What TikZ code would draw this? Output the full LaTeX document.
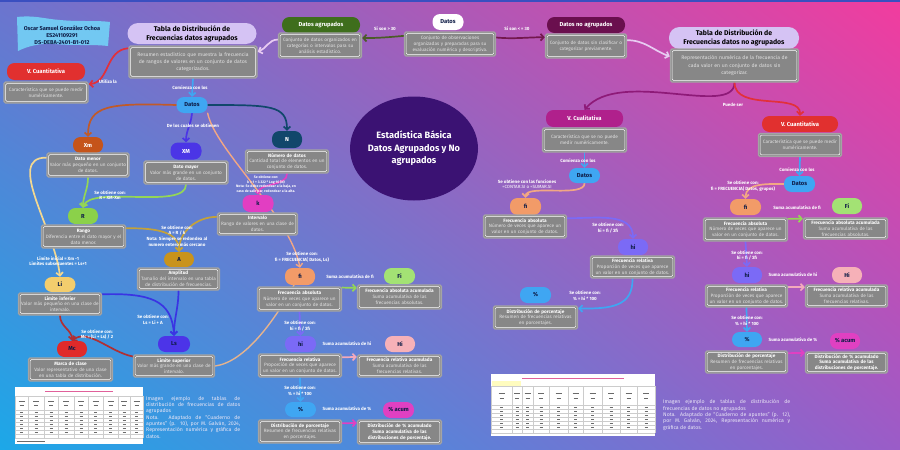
\documentclass[tikz,border=0pt]{standalone}
\usepackage{fontspec}
\setmainfont{Fira Sans}
\usetikzlibrary{arrows.meta,shapes.geometric,shadings}
\pgfdeclarelayer{bglayer}
\pgfdeclarelayer{edges}
\pgfsetlayers{bglayer,edges,main}
\definecolor{bgTL}{HTML}{6C74CE}
\definecolor{bgTR}{HTML}{F23C9E}
\definecolor{bgBL}{HTML}{1CA8E8}
\definecolor{bgBR}{HTML}{9A5CC8}
\definecolor{topline}{HTML}{3A4FC0}
\definecolor{boxgray}{HTML}{878787}
\definecolor{boxedge}{HTML}{A4A4A4}
\definecolor{boxtext}{HTML}{E2E2E2}
\definecolor{navy}{HTML}{0E1C46}
\definecolor{captext}{HTML}{EAE6F6}
\definecolor{titlepurple}{HTML}{3B1273}
\definecolor{authorblue}{HTML}{72C8F2}
\definecolor{agrgreen}{HTML}{3E6E1C}
\definecolor{cplum}{HTML}{6A0F4E}
\definecolor{lav}{HTML}{D5C3F4}
\definecolor{redp}{HTML}{E1302F}
\definecolor{datblue}{HTML}{3FA6F2}
\definecolor{xmor}{HTML}{C5541A}
\definecolor{xMbl}{HTML}{4B35E6}
\definecolor{ntea}{HTML}{11476B}
\definecolor{kmag}{HTML}{E23EC2}
\definecolor{rgr}{HTML}{8BD14A}
\definecolor{aoch}{HTML}{C9931C}
\definecolor{liyel}{HTML}{F3CD6D}
\definecolor{mcred}{HTML}{E02A2A}
\definecolor{lsbl}{HTML}{4C34E8}
\definecolor{fior}{HTML}{F29B68}
\definecolor{Figr}{HTML}{A3E274}
\definecolor{hivi}{HTML}{7B6AF6}
\definecolor{Hipk}{HTML}{F6B1B8}
\definecolor{Pcmag}{HTML}{E040C2}
\definecolor{vcualc}{HTML}{B0208C}
\definecolor{cOlive}{HTML}{4B5B28}
\definecolor{cMaroon}{HTML}{73184E}
\definecolor{lavline}{HTML}{E8CBF2}
\definecolor{redline}{HTML}{E2303A}
\definecolor{orline}{HTML}{C15A28}
\definecolor{salmonl}{HTML}{F2A784}
\definecolor{grline}{HTML}{94D656}
\definecolor{ochline}{HTML}{C4A23A}
\definecolor{yelline}{HTML}{F3D891}
\definecolor{dredline}{HTML}{B02F33}
\definecolor{bline}{HTML}{3A34E3}
\definecolor{tanline}{HTML}{E5B38E}
\definecolor{pkline}{HTML}{F3A9BC}
\definecolor{purline}{HTML}{8E1A78}
\definecolor{tabpink}{HTML}{E0609A}
\definecolor{tabmark}{HTML}{6A6A6A}
\newcommand{\fsdesc}{\fontsize{4.7}{5.9}\selectfont}
\newcommand{\fsdescL}{\fontsize{5.1}{7.2}\selectfont}
\newcommand{\fspill}{\fontsize{5.8}{7}\selectfont\bfseries}
\newcommand{\fstab}{\fontsize{6.9}{9}\selectfont\bfseries}
\newcommand{\fslab}{\fontsize{4.5}{5.6}\selectfont\bfseries}
\newcommand{\fstiny}{\fontsize{3.5}{4.4}\selectfont\bfseries}
\newcommand{\fscapt}{\fontsize{5.2}{6.3}\selectfont}
\newcommand{\fstitle}{\fontsize{9.2}{12.5}\selectfont\bfseries}
\newcommand{\fsauth}{\fontsize{5.6}{7}\selectfont\bfseries}
\newcommand{\ttl}[1]{{\bfseries\color{white}#1}}
\tikzset{
  pill/.style={rectangle, rounded corners=7.5pt, fill=#1, minimum width=30pt, minimum height=16pt, inner sep=1pt, font=\fspill, text=navy},
  tabpill/.style={rectangle, rounded corners=10.5pt, fill=lav, minimum width=129pt, minimum height=21pt, inner sep=1pt, font=\fstab, text=black, align=center},
  descbox/.style={rectangle, rounded corners=1.5pt, fill=boxgray, draw=boxedge, line width=1.3pt, text=boxtext, align=center, inner xsep=2.5pt, inner ysep=1pt, font=\fsdesc,
    path picture={\draw[white, line width=0.55pt, rounded corners=1pt] ([shift={(1.7pt,1.7pt)}]path picture bounding box.south west) rectangle ([shift={(-1.7pt,-1.7pt)}]path picture bounding box.north east);}},
  dsc/.style 2 args={descbox, text width=#1, minimum height=#2},
  lab/.style={font=\fslab, text=white, align=center, inner sep=0pt},
  conn/.style={line width=1.7pt, line cap=round, -{Straight Barb[length=3.2pt,width=6.8pt]}},
  plainconn/.style={line width=1.4pt, line cap=round},
  tgrid/.style={draw=gray!40, line width=0.3pt},
  tmark/.style={draw=tabmark, line width=0.8pt}
}
\begin{document}
\begin{tikzpicture}[x=1pt,y=-1pt]
\useasboundingbox (0,0) rectangle (900,450);
\begin{pgfonlayer}{bglayer}
\shade[upper left=bgTL, upper right=bgTR, lower left=bgBL, lower right=bgBR] (0,0) rectangle (900,450);
\fill[topline] (0,0) rectangle (900,1.5);
% author flag
\fill[authorblue] (17,17) .. controls (35,15) and (45,19) .. (60,20) .. controls (80,22) and (95,20) .. (110,22) -- (108,46) .. controls (90,44) and (75,46) .. (55,44) .. controls (40,43) and (28,46) .. (18,51) -- cycle;
% left table image
\fill[white] (15,387) rectangle (143,444);
\draw[tabpink, line width=1pt] (45,391) -- (113,391);
\foreach \gx in {15,28,44,58,74,88,103,118,130,143} \draw[tgrid] (\gx,396) -- (\gx,438);
\foreach \gy in {396,410,414,418,422,426,430,434,438} \draw[tgrid] (15,\gy) -- (143,\gy);
\foreach \cx in {21.5,36,51,66,81,95.5,110.5,124,136.5}{
  \draw[tmark] (\cx-3,401) -- (\cx+3,401);
  \draw[tmark] (\cx-2,405) -- (\cx+2,405);
  \foreach \cy in {412,416,420,424,428,432}{\draw[tmark, line width=0.6pt] (\cx-1.5,\cy) -- (\cx+1.5,\cy);}
}
\draw[tmark, line width=0.6pt] (17,441) -- (45,441);
% right table image
\fill[white] (491,374) rectangle (655,436);
\draw[tabpink, line width=1pt] (522,378) -- (624,378);
\fill[yellow!25] (492,381) rectangle (521,386);
\foreach \gx in {491,512,522,533,549,568,583,602,620,637,655} \draw[tgrid] (\gx,386) -- (\gx,433);
\foreach \gy in {386,405,409,413,417,421,425,429,433} \draw[tgrid] (491,\gy) -- (655,\gy);
\foreach \cx in {501.5,517,527.5,541,558.5,575.5,592.5,611,628.5,646}{
  \draw[tmark] (\cx-3,393) -- (\cx+3,393);
  \draw[tmark] (\cx-2,398) -- (\cx+2,398);
  \foreach \cy in {407,411,415,419,423,427}{\draw[tmark, line width=0.6pt] (\cx-1.5,\cy) -- (\cx+1.5,\cy);}
}
\end{pgfonlayer}

% ---------- title ellipse ----------
\node[ellipse, fill=titlepurple, minimum width=128pt, minimum height=104pt, inner sep=0pt] (title) at (414,148.5) {};
\node[font=\fstitle, text=white, align=center, inner sep=0pt] (titletext) at (title.center) {Estadística Básica\\Datos Agrupados y No\\agrupados};
\node[font=\fsauth, text=navy, align=center, inner sep=0pt] (author) at (62,35) {Oscar Samuel González Ochoa\\ES241109291\\DS-DEBA-2401-B1-012};

% ---------- top ----------
\node[pill=white, minimum width=31pt] (datosT) at (448,22) {Datos};
\node[dsc={86pt}{24pt}] (datosTD) at (450,44) {Conjunto de observaciones\\organizadas y preparadas para su\\evaluación numérica y descriptiva.};
\node[pill=agrgreen, text=white, minimum width=78pt] (agr) at (321,25) {Datos agrupados};
\node[dsc={78pt}{25pt}] (agrD) at (320,45.5) {Conjunto de datos organizados en\\categorías o intervalos para su\\análisis estadístico.};
\node[pill=cplum, text=white, minimum width=78pt] (noagr) at (586,25) {Datos no agrupados};
\node[dsc={76pt}{24pt}] (noagrD) at (586,46) {Conjunto de datos sin clasificar o\\categorizar previamente.};
\node[tabpill] (tabA) at (192,33.5) {Tabla de Distribución de\\Frecuencias datos agrupados};
\node[dsc={123pt}{32pt}, font=\fsdescL] (tabAD) at (193,62) {Resumen estadístico que muestra la frecuencia\\de rangos de valores en un conjunto de datos\\categorizados.};
\node[tabpill, minimum width=130pt, minimum height=22pt] (tabN) at (734,38) {Tabla de Distribución de\\Frecuencias datos no agrupados};
\node[dsc={123pt}{33pt}, font=\fsdescL] (tabND) at (734.5,65.5) {Representación numérica de la frecuencia de\\cada valor en un conjunto de datos sin\\categorizar.};

% ---------- left (agrupados) ----------
\node[pill=redp, text=white, minimum width=78pt, minimum height=17pt] (vcuant) at (46,71.5) {V. Cuantitativa};
\node[dsc={79pt}{21pt}] (vcuantD) at (46,92.5) {Característica que se puede medir\\numéricamente.};
\node[pill=datblue, minimum width=31pt] (datosA) at (192,105) {Datos};
\node[pill=xmor, text=white] (xm) at (88,145) {Xm};
\node[dsc={77pt}{24pt}] (xmD) at (88,165) {\ttl{Dato menor}\\Valor más pequeño en un conjunto\\de datos.};
\node[pill=xMbl, text=white, minimum width=31pt, minimum height=17pt] (xM) at (186,151) {XM};
\node[dsc={79pt}{23pt}] (xMD) at (186,172.5) {\ttl{Dato mayor}\\Valor más grande en un conjunto\\de datos.};
\node[pill=ntea, text=white, minimum height=17pt] (nN) at (287,139.5) {N};
\node[dsc={78pt}{23pt}] (nD) at (287,161.5) {\ttl{Número de datos}\\Cantidad total de elementos en un\\conjunto de datos.};
\node[pill=kmag, minimum width=31pt, minimum height=17pt] (kk) at (258,203.5) {k};
\node[dsc={75pt}{22pt}] (kD) at (257.5,224) {\ttl{Intervalo}\\Rango de valores en una clase de\\datos.};
\node[pill=rgr] (rr) at (83,216) {R};
\node[dsc={79pt}{23pt}] (rD) at (83.5,236.5) {\ttl{Rango}\\Diferencia entre el dato mayor y el\\dato menor.};
\node[pill=aoch, minimum height=15pt] (aa) at (179,259.5) {A};
\node[dsc={77pt}{22pt}] (aD) at (178.5,279) {\ttl{Amplitud}\\Tamaño del intervalo en una tabla\\de distribución de frecuencias.};
\node[pill=liyel, minimum width=31pt, minimum height=15pt] (li) at (60,284.5) {Li};
\node[dsc={78pt}{22pt}] (liD) at (60,304) {\ttl{Límite inferior}\\Valor más pequeño en una clase de\\intervalo.};
\node[pill=mcred] (mc) at (72,349) {Mc};
\node[dsc={79pt}{23pt}] (mcD) at (70.5,369.5) {\ttl{Marca de clase}\\Valor representativo de una clase\\en una tabla de distribución.};
\node[pill=lsbl, minimum width=32pt] (ls) at (174,344) {Ls};
\node[dsc={76pt}{22pt}] (lsD) at (174,366) {\ttl{Límite superior}\\Valor más grande en una clase de\\intervalo.};
\node[pill=fior, minimum height=17pt] (fiA) at (300,276.5) {fi};
\node[pill=Figr, minimum width=31pt] (FiA) at (399.5,276) {Fi};
\node[dsc={79pt}{24pt}] (fiAD) at (299.5,299) {\ttl{Frecuencia absoluta}\\Número de veces que aparece un\\valor en un conjunto de datos.};
\node[dsc={79pt}{24pt}] (FiAD) at (399.5,297) {\ttl{Frecuencia absoluta acumulada}\\Suma acumulativa de las\\frecuencias absolutas.};
\node[pill=hivi, minimum width=31pt] (hiA) at (300.5,344) {hi};
\node[pill=Hipk] (HiA) at (400,344) {Hi};
\node[dsc={78pt}{23pt}] (hiAD) at (300,365.5) {\ttl{Frecuencia relativa}\\Proporción de veces que aparece\\un valor en un conjunto de datos.};
\node[dsc={79pt}{22pt}] (HiAD) at (399.5,366) {\ttl{Frecuencia relativa acumulada}\\Suma acumulativa de las\\frecuencias relativas.};
\node[pill=datblue, minimum width=31pt, minimum height=15pt] (pcA) at (300.5,409.5) {\%};
\node[pill=Pcmag, minimum width=31pt] (PcA) at (398.5,410) {\% acum};
\node[dsc={78pt}{23pt}] (pcAD) at (300,431.5) {\ttl{Distribución de porcentaje}\\Resumen de frecuencias relativas\\en porcentajes.};
\node[dsc={79pt}{24pt}] (PcAD) at (399.5,432) {\bfseries\color{white}Distribución de \% acumulado\\Suma acumulativa de las\\distribuciones de porcentaje.};

% ---------- right (no agrupados) ----------
\node[pill=vcualc, text=white, minimum width=77pt, minimum height=17pt] (vcual) at (584.5,118.5) {V. Cualitativa};
\node[dsc={79pt}{24pt}] (vcualD) at (584.5,140) {Característica que se no puede\\medir numéricamente.};
\node[pill=redp, text=white, minimum width=76pt] (vcuant2) at (800,124) {V. Cuantitativa};
\node[dsc={78pt}{23pt}] (vcuant2D) at (800,145) {Característica que se puede medir\\numéricamente.};
\node[pill=datblue, minimum width=31pt, minimum height=15pt] (datosB) at (584.5,175.5) {Datos};
\node[pill=fior, minimum width=31pt, minimum height=17pt] (fiB) at (525.5,206.5) {fi};
\node[dsc={78pt}{23pt}] (fiBD) at (525,226.5) {\ttl{Frecuencia absoluta}\\Número de veces que aparece un\\valor en un conjunto de datos.};
\node[pill=hivi] (hiB) at (633,247) {hi};
\node[dsc={79pt}{22pt}] (hiBD) at (632.5,267) {\ttl{Frecuencia relativa}\\Proporción de veces que aparece\\un valor en un conjunto de datos.};
\node[pill=datblue, minimum width=31pt] (pcB) at (535.5,295) {\%};
\node[dsc={79pt}{23pt}] (pcBD) at (535.5,317.5) {\ttl{Distribución de porcentaje}\\Resumen de frecuencias relativas\\en porcentajes.};
\node[pill=datblue, minimum width=31pt] (datosC) at (799.5,184) {Datos};
\node[pill=fior, minimum width=31pt] (fiC) at (745.5,207) {fi};
\node[pill=Figr] (FiC) at (847,206) {Fi};
\node[dsc={79pt}{23pt}] (fiCD) at (745.5,229.5) {\ttl{Frecuencia absoluta}\\Número de veces que aparece un\\valor en un conjunto de datos.};
\node[dsc={79pt}{21pt}] (FiCD) at (845.5,228.5) {\ttl{Frecuencia absoluta acumulada}\\Suma acumulativa de las\\frecuencias absolutas.};
\node[pill=hivi] (hiC) at (747,275) {hi};
\node[pill=Hipk] (HiC) at (847,275) {Hi};
\node[dsc={77pt}{22pt}] (hiCD) at (746.5,296) {\ttl{Frecuencia relativa}\\Proporción de veces que aparece\\un valor en un conjunto de datos.};
\node[dsc={77pt}{22pt}] (HiCD) at (846.5,296) {\ttl{Frecuencia relativa acumulada}\\Suma acumulativa de las\\frecuencias relativas.};
\node[pill=datblue, minimum height=15pt] (pcC) at (747,339.5) {\%};
\node[pill=Pcmag] (PcC) at (845,341) {\% acum};
\node[dsc={77pt}{22pt}] (pcCD) at (746.5,362) {\ttl{Distribución de porcentaje}\\Resumen de frecuencias relativas\\en porcentajes.};
\node[dsc={77pt}{21pt}] (PcCD) at (846.5,362.5) {\bfseries\color{white}Distribución de \% acumulado\\Suma acumulativa de las\\distribuciones de porcentaje.};

% ---------- captions ----------
\node[font=\fscapt, text=captext, text width=94pt, align=justify, inner sep=0pt, anchor=north west] (capL) at (146,396) {Imagen ejemplo de tablas de\linebreak distribución de frecuencias de datos\linebreak agrupados\par Nota. Adaptado de “Cuaderno de\linebreak apuntes” (p. 10), por M. Galván, 2024,\linebreak Representación numérica y gráfica de\linebreak datos.};
\node[font=\fscapt, text=captext, text width=127pt, align=justify, inner sep=0pt, anchor=north west] (capR) at (663,399.5) {Imagen ejemplo de tablas de distribución de\linebreak frecuencias de datos no agrupados\par Nota. Adaptado de “Cuaderno de apuntes” (p. 12),\linebreak por M. Galván, 2024, Representación numérica y\linebreak gráfica de datos.};

% ---------- connectors ----------
\begin{pgfonlayer}{edges}
\draw[conn, cOlive] (datosTD.170) to[out=185,in=0] (agrD.10);
\draw[conn, cMaroon] (datosTD.8) to[out=-5,in=180] (noagrD.168);
\draw[conn, lavline] (agrD.172) to[out=180,in=20] (tabAD.9);
\draw[conn, lavline] (noagrD.8) to[out=0,in=160] (tabND.172);
\draw[conn, redline] (tabAD.168) .. controls (105,50) and (110,82) .. (vcuantD.11);
\draw[conn, datblue] (tabAD.south) -- (datosA.north);
\draw[conn, orline] (datosA.west) .. controls (110,103) and (88,105) .. (xm.north);
\draw[conn, xMbl] (datosA.south) to[out=-95,in=90] (xM.north);
\draw[conn, ntea] (datosA.east) .. controls (270,105) and (287,105) .. (nN.north);
\draw[conn, salmonl, line width=1.4pt] (datosA.south east) .. controls (215,150) and (290,215) .. (fiA.north);
\draw[conn, kmag] (nD.south) .. controls (288,186) and (258,183) .. (kk.north);
\draw[conn, grline] (xmD.south) to[out=-90,in=90] (rr.north);
\draw[conn, grline] (xMD.south) .. controls (186,210) and (90,185) .. (rr.north);
\draw[conn, ochline] (kD.170) to[out=180,in=90] (aa.north);
\draw[conn, ochline] (rD.11) to[out=0,in=90] (aa.north);
\draw[conn, yelline] (xmD.170) .. controls (5,157) and (55,230) .. (li.north);
\draw[conn, bline] (liD.13) .. controls (150,293) and (172,300) .. (ls.north);
\draw[conn, bline] (aD.south) to[out=-90,in=90] (ls.north);
\draw[conn, dredline] (liD.south) to[out=-90,in=90] (mc.north);
\draw[conn, dredline] (lsD.167) .. controls (110,352) and (88,328) .. (mc.north);
\draw[plainconn, tanline] (lsD.east) .. controls (245,362) and (275,320) .. (fiA.235);
\draw[conn, hivi] (fiAD.south) -- (hiA.north);
\draw[conn, datblue] (hiAD.south) -- (pcA.north);
\draw[conn, grline] (fiAD.15) -- (FiAD.168);
\draw[conn, pkline] (hiAD.11) -- (HiAD.168);
\draw[conn, Pcmag] (pcAD.11) -- (PcAD.168);
\draw[conn, purline] (tabND.south) .. controls (734,118) and (620,68) .. (vcual.north);
\draw[conn, redline] (tabND.south) .. controls (735,112) and (801,92) .. (vcuant2.north);
\draw[conn, datblue] (vcualD.south) -- (datosB.north);
\draw[conn, salmonl] (datosB.south) .. controls (585,198) and (526,184) .. (fiB.north);
\draw[conn, hivi] (fiBD.11) to[out=0,in=90] (hiB.north);
\draw[conn, datblue] (hiBD.south) .. controls (633,306) and (612,309) .. (pcBD.12);
\draw[conn, datblue] (vcuant2D.south) -- (datosC.north);
\draw[conn, salmonl] (datosC.west) to[out=180,in=90] (fiC.north);
\draw[conn, grline] (fiCD.14) -- (FiCD.167);
\draw[conn, hivi] (fiCD.south) -- (hiC.north);
\draw[conn, pkline] (hiCD.12) -- (HiCD.168);
\draw[conn, datblue] (hiCD.south) -- (pcC.north);
\draw[conn, Pcmag] (pcCD.12) -- (PcCD.167);
\end{pgfonlayer}

% ---------- labels ----------
\node[lab] (l1) at (385,29) {Si son > 30};
\node[lab] (l2) at (517,29) {Si son < = 30};
\node[lab] (l3) at (108,82) {Utiliza la};
\node[lab] (l4) at (190,88) {Comienza con los};
\node[lab] (l5) at (193,126) {De los cuales se obtienen};
\node[lab] (l6) at (110,195) {Se obtiene con:\\R = XM-Xm};
\node[lab, font=\fstiny] (l7) at (266,184.5) {Se obtiene con:\\k = 1 + 3.322 * Log 10 (N)\\Nota: Se debe redondear a la baja, en\\caso de salir par, redondear a la alta.};
\node[lab] (l8) at (177,236) {Se obtiene con:\\A = R / k\\Nota: Siempre se redondea al\\numero entero más cercano};
\node[lab] (l9) at (58,261) {Límite inicial = Xm -1\\Limites subsecuentes = Ls+1};
\node[lab] (l10) at (153,320) {Se obtiene con:\\Ls = Li + A};
\node[lab] (l11) at (97,334.5) {Se obtiene con:\\Mc = (Li + Ls) / 2};
\node[lab] (l12) at (302,257) {Se obtiene con:\\fi = FRECUENCIA( Datos, Ls)};
\node[lab] (l13) at (350,277) {Suma acumulativa de fi};
\node[lab] (l14) at (300,326) {Se obtiene con:\\hi = fi / Σfi};
\node[lab] (l15) at (347,343.5) {Suma acumulativa de hi};
\node[lab] (l16) at (300,391) {Se obtiene con:\\\% = hi * 100};
\node[lab] (l17) at (347,408.5) {Suma acumulativa de \%};
\node[lab] (r1) at (733,105) {Puede ser};
\node[lab] (r2) at (578,161) {Comienza con los};
\node[lab] (r3) at (527,184) {Se obtiene con las funciones\\{\mdseries =CONTAR.SI o =SUMAR.SI}};
\node[lab] (r4) at (608,228) {Se obtiene con:\\hi = fi / Σfi};
\node[lab] (r5) at (585,296) {Se obtiene con:\\\% = hi * 100};
\node[lab] (r6) at (797,170) {Comienza con los};
\node[lab] (r7) at (743,186) {Se obtiene con:\\fi = FRECUENCIA( Datos, grupos)};
\node[lab] (r8) at (797,207.5) {Suma acumulativa de fi};
\node[lab] (r9) at (747,255.5) {Se obtiene con:\\hi = fi / Σfi};
\node[lab] (r10) at (793,274.5) {Suma acumulativa de hi};
\node[lab] (r11) at (747,321) {Se obtiene con:\\\% = hi * 100};
\node[lab] (r12) at (793,339.5) {Suma acumulativa de \%};
\end{tikzpicture}
\end{document}
